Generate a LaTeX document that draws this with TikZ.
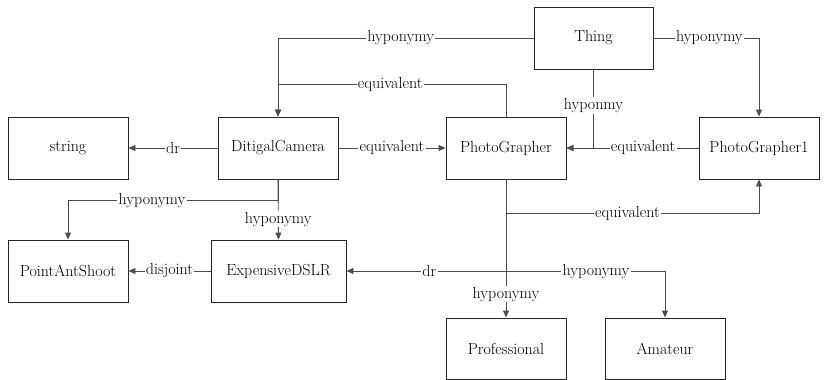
\documentclass[tikz,border=0pt]{standalone}
\usepackage{mathptmx}
\usetikzlibrary{arrows.meta}
\begin{document}
\begin{tikzpicture}[x=1pt,y=-1pt,
  box/.style={draw=black!85, line width=0.9pt, minimum width=120pt, minimum height=62pt, inner sep=0pt, font=\fontsize{16}{19}\selectfont},
  conn/.style={draw=black!70, line width=0.9pt},
  arr/.style={conn, -{Triangle[length=7pt,width=6pt]}},
  lbl/.style={fill=white, inner sep=1.2pt, font=\fontsize{16}{19}\selectfont}]
\useasboundingbox (0,0) rectangle (825,380);
\node[box, minimum width=119pt] (thing) at (593.5,38) {Thing};
\node[box] (dc) at (278,148) {DitigalCamera};
\node[box] (pg) at (506,148) {PhotoGrapher};
\node[box] (pg1) at (759,148) {PhotoGrapher1};
\node[box] (str) at (68,148) {string};
\node[box] (pas) at (68,271) {PointAntShoot};
\node[box, minimum width=135pt] (ed) at (278.5,271) {ExpensiveDSLR};
\node[box, minimum height=61pt] (prof) at (506,348.5) {Professional};
\node[box, minimum height=61pt] (am) at (665,348.5) {Amateur};
% connectors
\draw[arr] (thing.west) -| (dc.north) node[lbl, pos=0.26] {hyponymy};
\draw[arr] (pg.north) -- ++(0,-32) -| (dc.north) node[lbl, pos=0.254] {equivalent};
\draw[arr] (dc.east) -- (pg.west) node[lbl, midway] {equivalent};
\draw[arr] (thing.south) |- (pg.east) node[lbl, pos=0.23] {hyponmy};
\draw[arr] (pg1.west) -- (pg.east) node[lbl, pos=0.42] {equivalent};
\draw[arr] (thing.east) -| (pg1.north) node[lbl, pos=0.265] {hyponymy};
\draw[arr] (pg.south) -- ++(0,34) -| (pg1.south) node[lbl, pos=0.24] {equivalent};
\draw[arr] (dc.west) -- (str.east) node[lbl, midway] {dr};
\draw[arr] (dc.south) -- ++(0,21) -| (pas.north) node[lbl, pos=0.30] {hyponymy};
\draw[arr] (dc.south) -- (ed.north) node[lbl, pos=0.66] {hyponymy};
\draw[arr] (ed.west) -- (pas.east) node[lbl, midway] {disjoint};
\draw[arr] (pg.south) |- (ed.east) node[lbl, pos=0.74] {dr};
\draw[arr] (pg.south) -- ++(0,92) -| (am.north) node[lbl, pos=0.283] {hyponymy};
\draw[arr] (pg.south) -- (prof.north) node[lbl, pos=0.83] {hyponymy};
\end{tikzpicture}
\end{document}
